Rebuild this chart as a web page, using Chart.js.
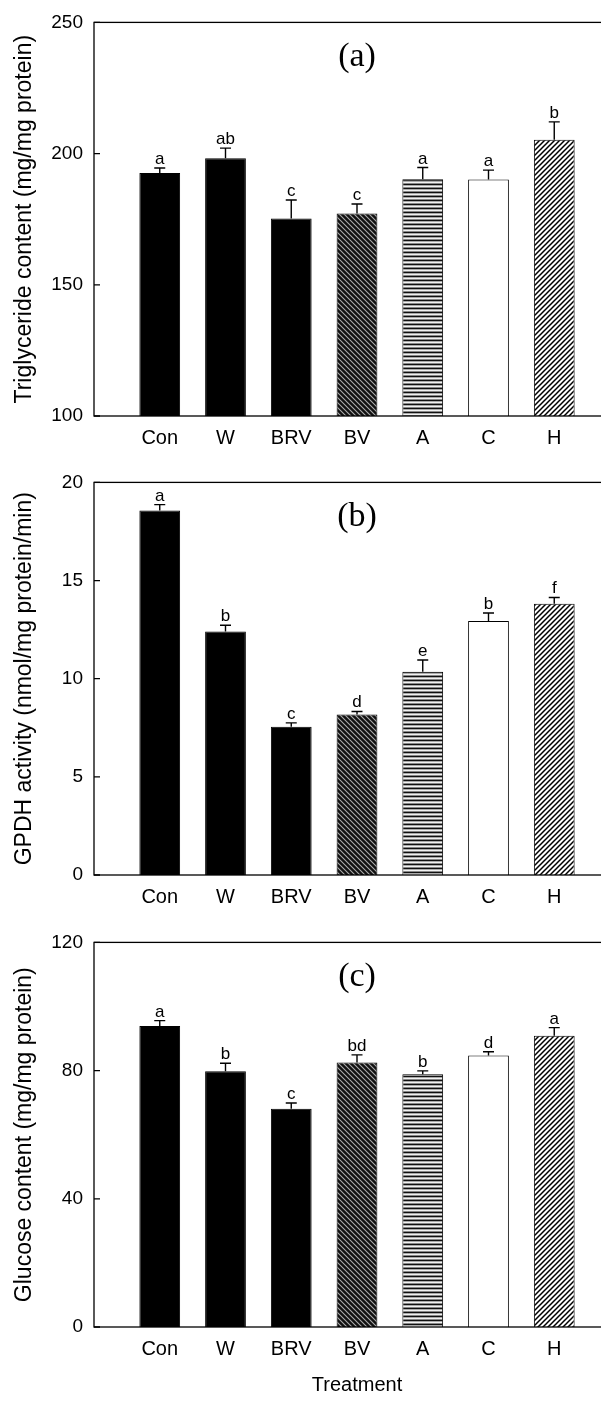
<!DOCTYPE html>
<html>
<head>
<meta charset="utf-8">
<script src="https://cdn.jsdelivr.net/npm/chart.js@4.4.1/dist/chart.umd.min.js"></script>
<style>
  html, body { margin: 0; padding: 0; background: #fff; overflow: hidden; }
  #wrap { position: relative; width: 601px; height: 1404px; overflow: hidden; }
  canvas { position: absolute; left: 0; }
</style>
</head>
<body>
<div id="wrap">
  <canvas id="chartA" width="640" height="460" style="top:0"></canvas>
  <canvas id="chartB" width="640" height="460" style="top:460px"></canvas>
  <canvas id="chartC" width="640" height="484" style="top:920px"></canvas>
</div>
<script>
// data
const categories = ['Con', 'W', 'BRV', 'BV', 'A', 'C', 'H'];

const triglyceride = [192.6, 198.2, 175.3, 177.2, 190.2, 190.1, 205.3];
const triglycerideErr = [1.9, 3.9, 7.0, 3.6, 4.5, 3.6, 6.8];
const triglycerideLetters = ['a', 'ab', 'c', 'c', 'a', 'a', 'b'];
const triglycerideTicks = [100, 150, 200, 250];

const gpdh = [18.57, 12.40, 7.55, 8.18, 10.35, 12.94, 13.82];
const gpdhErr = [0.30, 0.32, 0.20, 0.15, 0.60, 0.41, 0.32];
const gpdhLetters = ['a', 'b', 'c', 'd', 'e', 'b', 'f'];
const gpdhTicks = [0, 5, 10, 15, 20];

const glucose = [93.9, 79.8, 68.1, 82.5, 78.9, 84.7, 90.9];
const glucoseErr = [1.7, 2.5, 1.8, 2.4, 1.0, 1.2, 2.5];
const glucoseLetters = ['a', 'b', 'c', 'bd', 'b', 'd', 'a'];
const glucoseTicks = [0, 40, 80, 120];

Chart.defaults.font.family = '"Liberation Sans", Arial, sans-serif';
Chart.defaults.color = '#000';

// fill patterns
function makePattern(w, h, draw) {
    const c = document.createElement('canvas');
    c.width = w;
    c.height = h;
    const g = c.getContext('2d');
    draw(g, w, h);
    return g.createPattern(c, 'repeat');
}

function diagLines(g, p, down) {
    g.beginPath();
    if (down) {
        g.moveTo(-1, -1); g.lineTo(p + 1, p + 1);
        g.moveTo(p - 1, -1); g.lineTo(p + 1, 1);
        g.moveTo(-1, p - 1); g.lineTo(1, p + 1);
    } else {
        g.moveTo(-1, p + 1); g.lineTo(p + 1, -1);
        g.moveTo(-1, 1); g.lineTo(1, -1);
        g.moveTo(p - 1, p + 1); g.lineTo(p + 1, p - 1);
    }
    g.stroke();
}

const solid = '#000';
const darkHatch = makePattern(5, 5, (g, w) => {
    g.fillStyle = '#111';
    g.fillRect(0, 0, w, w);
    g.strokeStyle = 'rgba(255,255,255,0.65)';
    g.lineWidth = 1.1;
    diagLines(g, w, true);
});
const horizLines = makePattern(4, 4, (g) => {
    g.fillStyle = '#f2f2f2';
    g.fillRect(0, 0, 4, 4);
    g.fillStyle = '#111';
    g.fillRect(0, 0, 4, 1);
    g.fillStyle = '#aaa';
    g.fillRect(0, 1, 4, 1);
    g.fillStyle = '#888';
    g.fillRect(0, 3, 4, 1);
});
const lightHatch = makePattern(5, 5, (g, w) => {
    g.fillStyle = '#fff';
    g.fillRect(0, 0, w, w);
    g.strokeStyle = '#000';
    g.lineWidth = 1.5;
    diagLines(g, w, false);
});
const barFills = [solid, solid, solid, darkHatch, horizLines, '#fff', lightHatch];

// frame, inward ticks, error bars, letters, panel label
const annotate = {
    id: 'annotate',
    afterDatasetsDraw(chart, args, opts) {
        const ctx = chart.ctx;
        const area = chart.chartArea;
        const y = chart.scales.y;
        const meta = chart.getDatasetMeta(0);
        ctx.save();
        ctx.strokeStyle = '#000';
        ctx.lineWidth = 1.3;
        ctx.strokeRect(area.left, area.top, area.right - area.left, area.bottom - area.top);

        ctx.beginPath();
        y.ticks.forEach(t => {
            const py = y.getPixelForValue(t.value);
            ctx.moveTo(area.left, py);
            ctx.lineTo(area.left + 6, py);
        });
        ctx.stroke();

        ctx.lineWidth = 1.4;
        ctx.font = '17px "Liberation Sans", Arial, sans-serif';
        ctx.fillStyle = '#000';
        ctx.textAlign = 'center';
        ctx.textBaseline = 'alphabetic';
        opts.values.forEach((v, i) => {
            const bar = meta.data[i + 1];
            const top = y.getPixelForValue(v + opts.errors[i]);
            ctx.beginPath();
            ctx.moveTo(bar.x, bar.y);
            ctx.lineTo(bar.x, top);
            ctx.moveTo(bar.x - 5.5, top);
            ctx.lineTo(bar.x + 5.5, top);
            ctx.stroke();
            ctx.fillText(opts.letters[i], bar.x, top - 4);
        });

        ctx.font = '34px "Liberation Serif", "Times New Roman", serif';
        ctx.textBaseline = 'middle';
        ctx.fillText(opts.panel, (area.left + area.right) / 2, area.top + 35);
        ctx.restore();
    }
};

function makeChart(id, values, errors, letters, ticks, yTitle, panel, axisHeight, topPad, xTitle) {
    const ctx = document.getElementById(id).getContext('2d');
    return new Chart(ctx, {
        type: 'bar',
        data: {
            labels: ['', ...categories, ''],
            datasets: [{
                data: [null, ...values, null],
                backgroundColor: ['#fff', ...barFills, '#fff'],
                borderColor: '#000',
                borderWidth: 1,
                barPercentage: 0.62,
                categoryPercentage: 1
            }]
        },
        options: {
            responsive: false,
            animation: false,
            layout: { padding: { top: topPad, right: 20, left: 0, bottom: 0 } },
            plugins: {
                legend: { display: false },
                tooltip: { enabled: false },
                annotate: { values: values, errors: errors, letters: letters, panel: panel }
            },
            scales: {
                x: {
                    type: 'category',
                    offset: false,
                    grid: { display: false, drawTicks: false },
                    border: { display: false },
                    ticks: { autoSkip: false, maxRotation: 0, padding: 10, font: { size: 20 } },
                    title: {
                        display: !!xTitle,
                        text: xTitle || '',
                        font: { size: 20 },
                        padding: { top: 0, bottom: 7 }
                    },
                    afterFit: s => { s.height = axisHeight; }
                },
                y: {
                    min: ticks[0],
                    max: ticks[ticks.length - 1],
                    grid: { display: false, drawTicks: false },
                    border: { display: false },
                    ticks: { padding: 11, font: { size: 19 } },
                    afterBuildTicks: s => { s.ticks = ticks.map(v => ({ value: v })); },
                    title: {
                        display: true,
                        text: yTitle,
                        font: { size: 23 },
                        padding: { top: 11, bottom: 0 }
                    },
                    afterFit: s => { s.width = 94; }
                }
            }
        },
        plugins: [annotate]
    });
}

makeChart('chartA', triglyceride, triglycerideErr, triglycerideLetters, triglycerideTicks,
    'Triglyceride content (mg/mg protein)', '(a)', 44, 20);
makeChart('chartB', gpdh, gpdhErr, gpdhLetters, gpdhTicks,
    'GPDH activity (nmol/mg protein/min)', '(b)', 45, 20);
makeChart('chartC', glucose, glucoseErr, glucoseLetters, glucoseTicks,
    'Glucose content (mg/mg protein)', '(c)', 77, 21, 'Treatment');
</script>
</body>
</html>
